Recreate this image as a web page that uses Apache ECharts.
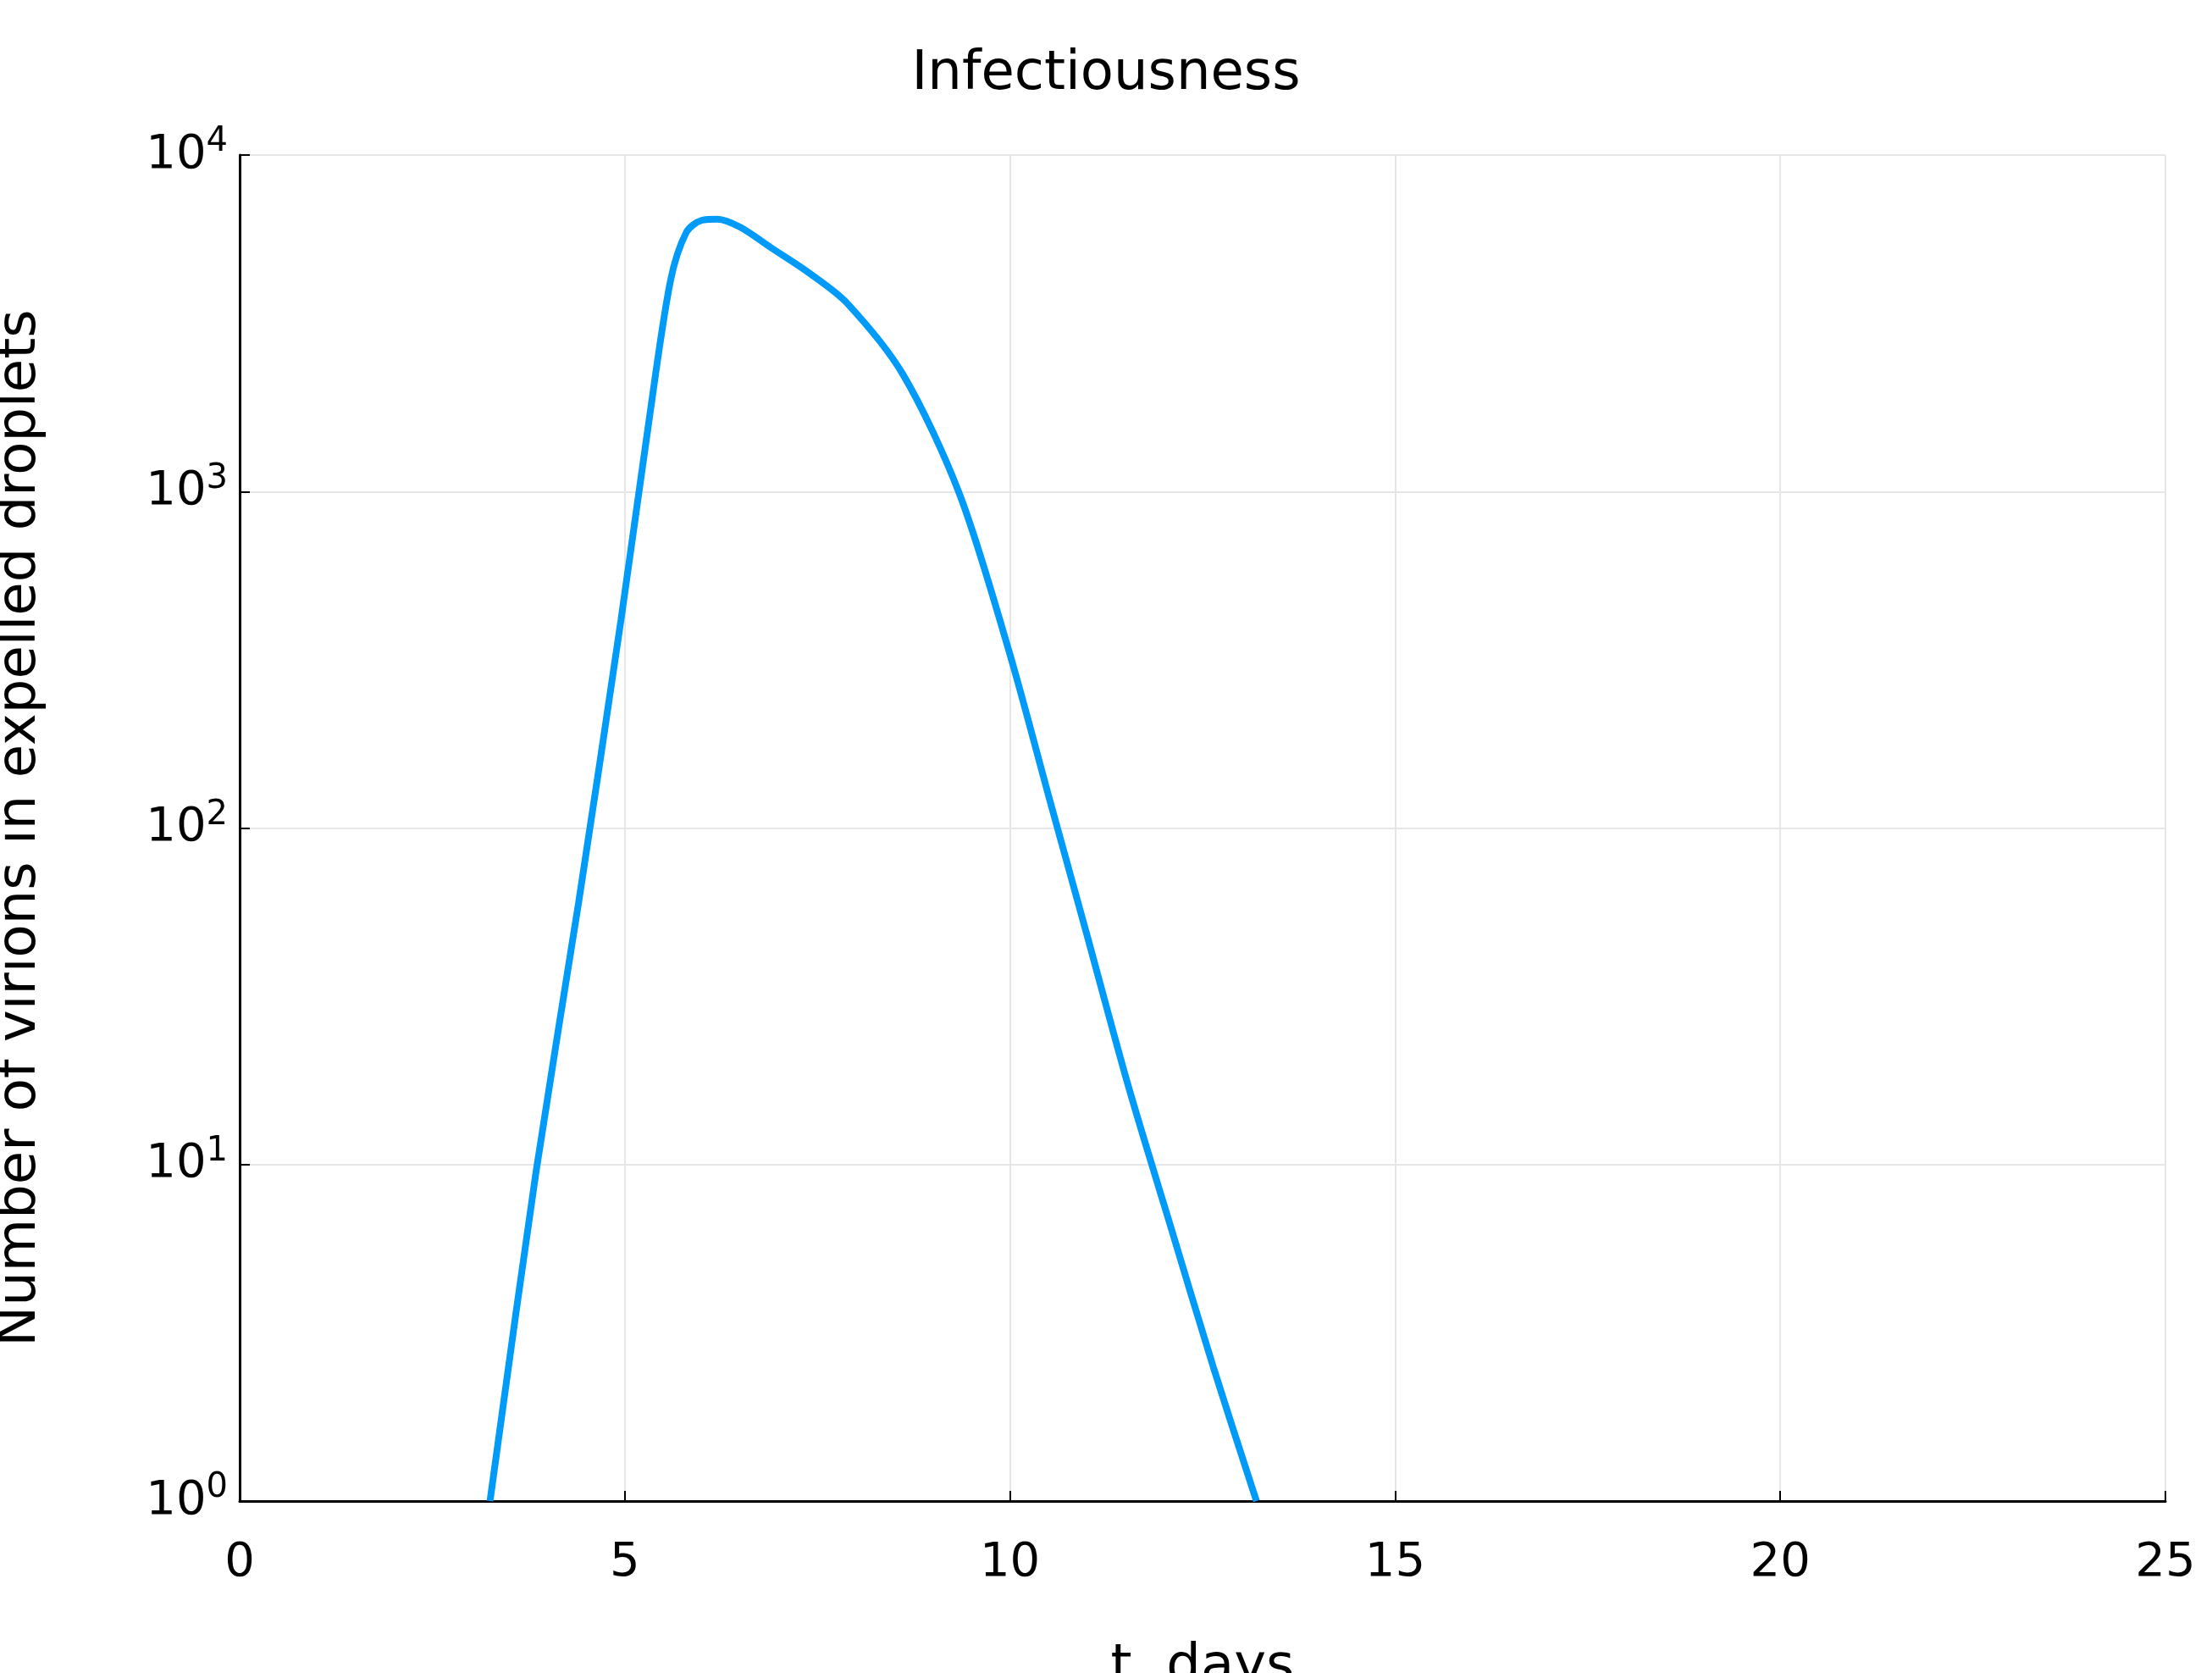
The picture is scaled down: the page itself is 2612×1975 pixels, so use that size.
<!DOCTYPE html>
<html>
<head>
<script src="https://cdn.jsdelivr.net/npm/echarts@6/dist/echarts.min.js"></script>
<style>html,body{margin:0;background:#fff}</style>
</head>
<body>
<div id="main" style="width:2612px;height:1975px"></div>
<script>
var days = [3.25, 3.85, 4.4, 4.95, 5.31, 5.59, 5.8, 6.0, 6.2, 6.5, 6.9, 7.4, 7.88, 8.61, 9.34, 9.98, 10.53, 10.99, 11.54, 12.09, 12.64, 13.2];
var virions = [1, 9.6, 60, 415, 1600, 4200, 5900, 6400, 6450, 6100, 5300, 4450, 3640, 2230, 990, 340, 118, 49, 17, 6.5, 2.5, 1];
var xTicks = [0, 5, 10, 15, 20, 25];

var font = 'DejaVu Sans';
var chart = echarts.init(document.getElementById('main'));
chart.setOption({
    title: {text: 'Infectiousness', left: 'center', top: 20,
        textStyle: {fontFamily: font, fontWeight: 'normal', fontSize: 64, color: '#000'}},
    grid: {left: 283, right: 55, top: 183, bottom: 203, outerBoundsMode: 'none', containLabel: false},
    xAxis: {
        type: 'value', min: 0, max: 25, interval: 5,
        name: 't, days', nameLocation: 'middle', nameGap: 125,
        nameTextStyle: {fontFamily: font, fontSize: 64, color: '#000'},
        axisLine: {lineStyle: {color: '#000', width: 3}},
        axisTick: {inside: true, length: 12, lineStyle: {color: '#000', width: 2}},
        axisLabel: {fontFamily: font, fontSize: 56, color: '#000', margin: 18},
        splitLine: {lineStyle: {color: '#e6e6e6', width: 2}}
    },
    yAxis: {
        type: 'log', logBase: 10, min: 1, max: 10000,
        name: 'Number of virions in expelled droplets', nameLocation: 'middle', nameGap: 195,
        nameTextStyle: {fontFamily: font, fontSize: 64, color: '#000'},
        axisLine: {show: true, lineStyle: {color: '#000', width: 3}},
        axisTick: {show: true, inside: true, length: 12, lineStyle: {color: '#000', width: 2}},
        axisLabel: {
            fontFamily: font, fontSize: 56, color: '#000', margin: 14,
            formatter: function (v) { return '10{s|' + Math.round(Math.log10(v)) + '}'; },
            rich: {s: {fontFamily: font, fontSize: 40, color: '#000', padding: [0, 0, 30, 0]}}
        },
        splitLine: {lineStyle: {color: '#e6e6e6', width: 2}}
    },
    series: [{
        type: 'line', smooth: 0.3, symbol: 'none',
        lineStyle: {color: '#009af9', width: 8},
        data: days.map(function (d, i) { return [d, virions[i]]; })
    }]
});
</script>
</body>
</html>
